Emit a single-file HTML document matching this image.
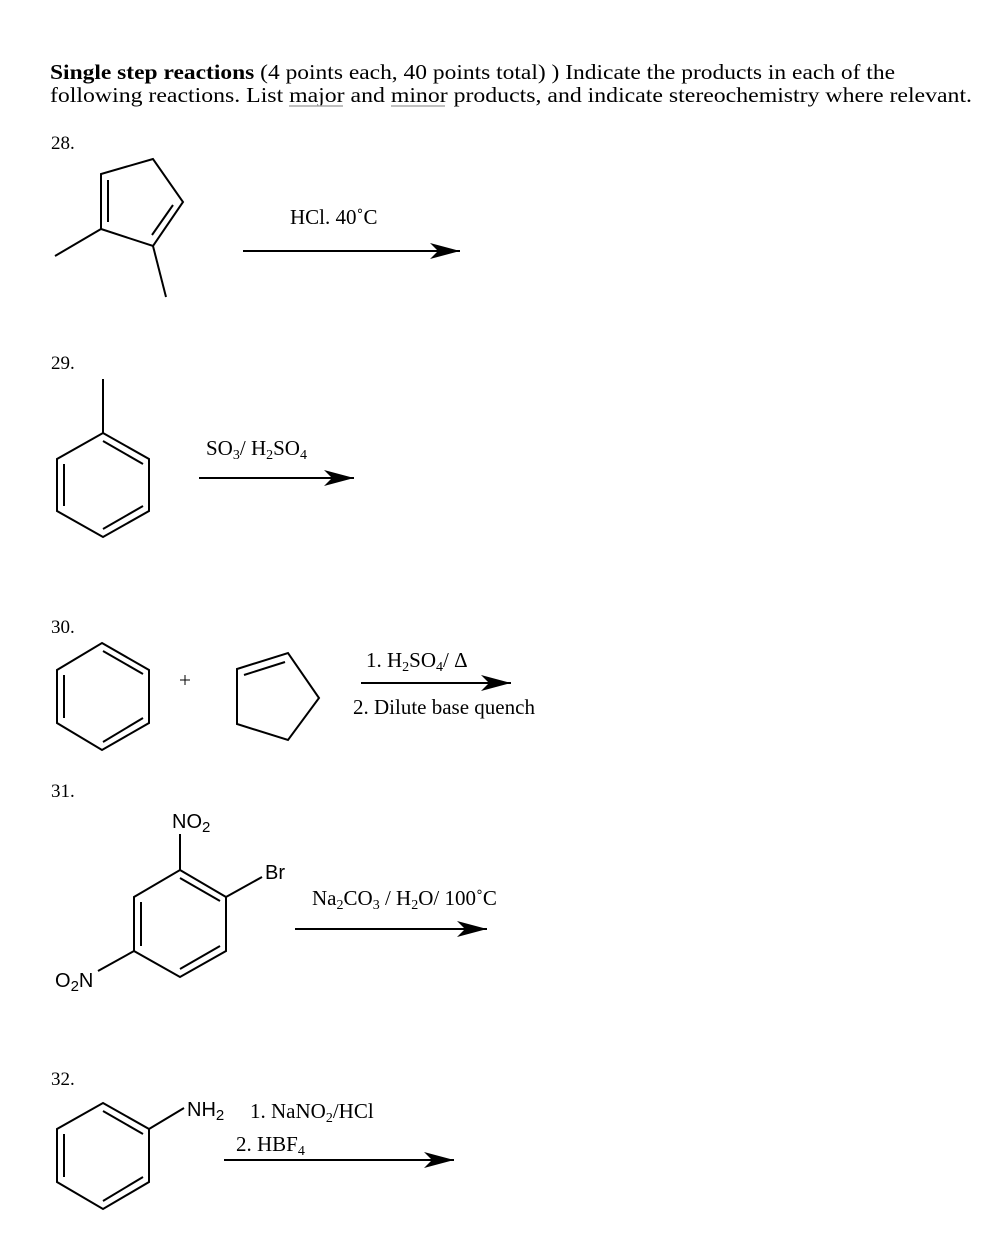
<!DOCTYPE html>
<html><head><style>html,body{margin:0;padding:0;background:#fff}svg{display:block}</style></head>
<body>
<svg width="996" height="1250" viewBox="0 0 996 1250" xmlns="http://www.w3.org/2000/svg" font-family="Liberation Serif, serif">
<defs><marker id="a" viewBox="0 0 30 16" refX="30" refY="8" markerWidth="30" markerHeight="16" markerUnits="userSpaceOnUse" orient="auto"><path d="M0,0 L30,8 L0,16 L8,8 Z" fill="#000"/></marker></defs>
<text x="50" y="79" font-size="21" textLength="845" lengthAdjust="spacingAndGlyphs"><tspan font-weight="bold">Single step reactions</tspan> (4 points each, 40 points total)  ) Indicate the products in each of the</text>
<text x="50" y="102" font-size="21" textLength="922" lengthAdjust="spacingAndGlyphs">following reactions.  List major and minor products, and indicate stereochemistry where relevant.</text>
<line x1="289" y1="106" x2="343" y2="106" stroke="#aaa" stroke-width="1.5"/>
<line x1="391" y1="106" x2="445" y2="106" stroke="#aaa" stroke-width="1.5"/>
<g font-size="19">
<text x="51" y="149">28.</text><text x="51" y="369">29.</text><text x="51" y="633">30.</text><text x="51" y="797">31.</text><text x="51" y="1085">32.</text>
</g>
<g stroke="#000" stroke-width="2" fill="none">
<!-- 28 -->
<polygon points="153,159 101,174 101,229 153,246 183,202"/>
<line x1="108" y1="180" x2="108" y2="222"/><line x1="173" y1="205" x2="152" y2="235"/>
<line x1="101" y1="229" x2="55" y2="256"/><line x1="153" y1="246" x2="166" y2="297"/>
<line x1="243" y1="251" x2="460" y2="251" marker-end="url(#a)"/>
<!-- 29 -->
<line x1="103" y1="379" x2="103" y2="433"/>
<polygon points="103,433 149,459 149,511 103,537 57,511 57,459"/>
<line x1="103" y1="441" x2="143" y2="464"/><line x1="64" y1="464" x2="64" y2="506"/><line x1="103" y1="529" x2="143" y2="506"/>
<line x1="199" y1="478" x2="354" y2="478" marker-end="url(#a)"/>
<!-- 30 -->
<polygon points="102,643 149,670 149,723 102,750 57,723 57,670"/>
<line x1="103" y1="651" x2="143" y2="674"/><line x1="64" y1="675" x2="64" y2="718"/><line x1="103" y1="742" x2="143" y2="718"/>
<line x1="180" y1="680" x2="190" y2="680" stroke-width="1"/><line x1="185" y1="675" x2="185" y2="685" stroke-width="1"/>
<polygon points="237,669 288,653 319,698 288,740 237,724"/>
<line x1="244" y1="675" x2="285" y2="662"/>
<line x1="361" y1="683" x2="511" y2="683" marker-end="url(#a)"/>
<!-- 31 -->
<line x1="180" y1="834" x2="180" y2="870"/>
<polygon points="180,870 226,897 226,951 180,977 134,951 134,897"/>
<line x1="180" y1="878" x2="220" y2="901"/><line x1="141" y1="902" x2="141" y2="946"/><line x1="180" y1="969" x2="220" y2="946"/>
<line x1="226" y1="897" x2="262" y2="877"/><line x1="134" y1="951" x2="98" y2="971"/>
<line x1="295" y1="929" x2="487" y2="929" marker-end="url(#a)"/>
<!-- 32 -->
<polygon points="103,1103 149,1129 149,1182 103,1209 57,1182 57,1129"/>
<line x1="103" y1="1111" x2="143" y2="1134"/><line x1="64" y1="1134" x2="64" y2="1177"/><line x1="103" y1="1201" x2="143" y2="1177"/>
<line x1="149" y1="1129" x2="184" y2="1108"/>
<line x1="224" y1="1160" x2="454" y2="1160" marker-end="url(#a)"/>
</g>
<g font-size="21">
<text x="290" y="224">HCl. 40˚C</text>
<text x="206" y="455">SO<tspan font-size="14" dy="4">3</tspan><tspan dy="-4">/ H</tspan><tspan font-size="14" dy="4">2</tspan><tspan dy="-4">SO</tspan><tspan font-size="14" dy="4">4</tspan></text>
<text x="366" y="667">1. H<tspan font-size="14" dy="4">2</tspan><tspan dy="-4">SO</tspan><tspan font-size="14" dy="4">4</tspan><tspan dy="-4">/ Δ</tspan></text>
<text x="353" y="714">2. Dilute base quench</text>
<text x="312" y="905">Na<tspan font-size="14" dy="4">2</tspan><tspan dy="-4">CO</tspan><tspan font-size="14" dy="4">3</tspan><tspan dy="-4"> / H</tspan><tspan font-size="14" dy="4">2</tspan><tspan dy="-4">O/ 100˚C</tspan></text>
<text x="250" y="1118">1. NaNO<tspan font-size="14" dy="4">2</tspan><tspan dy="-4">/HCl</tspan></text>
<text x="236" y="1151">2.  HBF<tspan font-size="14" dy="4">4</tspan></text>
</g>
<g font-family="Liberation Sans, sans-serif" font-size="20">
<text x="172" y="828">NO<tspan font-size="15" dy="4">2</tspan></text>
<text x="265" y="879">Br</text>
<text x="55" y="987">O<tspan font-size="15" dy="4">2</tspan><tspan dy="-4">N</tspan></text>
<text x="187" y="1116">NH<tspan font-size="15" dy="4">2</tspan></text>
</g>
</svg>
</body></html>
